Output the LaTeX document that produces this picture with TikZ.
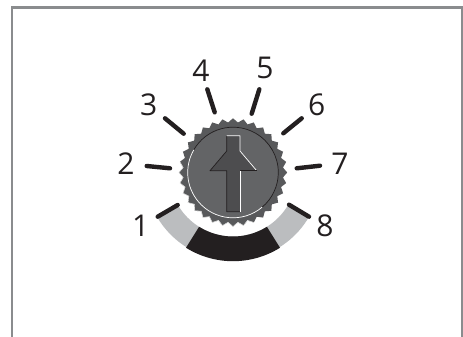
\documentclass[tikz,border=0pt]{standalone}
\usepackage{fontspec}
\setmainfont{Open Sans}
\definecolor{framegray}{HTML}{8A8C8E}
\definecolor{inkblack}{HTML}{231F20}
\definecolor{bandgray}{HTML}{BBBDBF}
\definecolor{geargray}{HTML}{58595B}
\definecolor{dialgray}{HTML}{636466}
\definecolor{arrowgray}{HTML}{4D4D4F}
\tikzset{
  tick/.style={draw=inkblack,line width=4.4pt,line cap=round},
  digit/.style={font=\fontsize{30}{30}\selectfont,text=inkblack,inner sep=0pt,anchor=center},
  hair/.style={line width=0.7pt}
}
\newcommand{\gearplot}{plot[domain=0:64,samples=65] ({233+(52.2+2*cos(\x*180))*cos(\x*5.625)},{172.5+(52.2+2*cos(\x*180))*sin(\x*5.625)}) -- cycle}
\begin{document}
\begin{tikzpicture}[x=1pt,y=-1pt]
\useasboundingbox (0,0) rectangle (463,337);
\fill[white] (0,0) rectangle (463,337);
\draw[framegray,line width=2.6pt] (12,337) -- (12,7.7) -- (462,7.7) -- (462,337);
% scale band
\coordinate (c) at (233,172.5);
\fill[bandgray] ([shift={(150:64)}]c) arc[start angle=150,end angle=30,radius=64]
  -- ([shift={(30:88)}]c) arc[start angle=30,end angle=150,radius=88] -- cycle;
\fill[inkblack] ([shift={(122:64)}]c) arc[start angle=122,end angle=58,radius=64]
  -- ([shift={(58:88.7)}]c) arc[start angle=58,end angle=122,radius=88.7] -- cycle;
% ticks
\draw[tick] (157.7,216.7) -- (177.7,205);
\draw[tick] (146.7,166) -- (170,168.3);
\draw[tick] (165,118.3) -- (183.7,133.7);
\draw[tick] (207.3,89.3) -- (214.7,112.3);
\draw[tick] (259.3,89.3) -- (251.7,113.7);
\draw[tick] (301.7,118.3) -- (283.3,133.3);
\draw[tick] (320,165.7) -- (296.7,168.3);
\draw[tick] (289,204.7) -- (309,216.7);
% gear
\fill[geargray] \gearplot;
\begin{scope}
  \clip \gearplot;
  \draw[white,hair] plot[domain=12:34,samples=23] ({233+(52.2+2*cos(\x*180))*cos(\x*5.625)},{172.5+(52.2+2*cos(\x*180))*sin(\x*5.625)});
\end{scope}
% dial
\fill[dialgray] (c) circle[radius=45.3];
\draw[inkblack,hair] ([shift={(-150:45.3)}]c) arc[start angle=-150,end angle=50,radius=45.3];
\draw[white,hair] ([shift={(50:45.3)}]c) arc[start angle=50,end angle=210,radius=45.3];
% arrow
\fill[arrowgray] (226.7,135.7) -- (240,135.7) -- (240,151) -- (256.7,170.7) -- (240,170.7) -- (240,211.7) -- (226.7,211.7) -- (226.7,170.7) -- (210,170.7) -- (226.7,151) -- cycle;
\draw[inkblack,hair,line join=round] (240,211.7) -- (226.7,211.7) -- (226.7,170.7) -- (210,170.7) -- (226.7,151) -- (226.7,135.7);
\draw[white,hair,line join=round] (226.7,135.7) -- (240,135.7) -- (240,151) -- (256.7,170.7);
\draw[inkblack,hair] (256.7,170.7) -- (240,170.7);
\draw[white,hair] (240,170.7) -- (240,211.7);
% digits
\node[digit] (n1) at (140.7,225.7) {1};
\node[digit] (n2) at (126,164) {2};
\node[digit] (n3) at (148.7,105) {3};
\node[digit] (n4) at (201,70.7) {4};
\node[digit] (n5) at (265,67.7) {5};
\node[digit] (n6) at (316.7,104.7) {6};
\node[digit] (n7) at (340,163.3) {7};
\node[digit] (n8) at (325,225.7) {8};
\end{tikzpicture}
\end{document}
